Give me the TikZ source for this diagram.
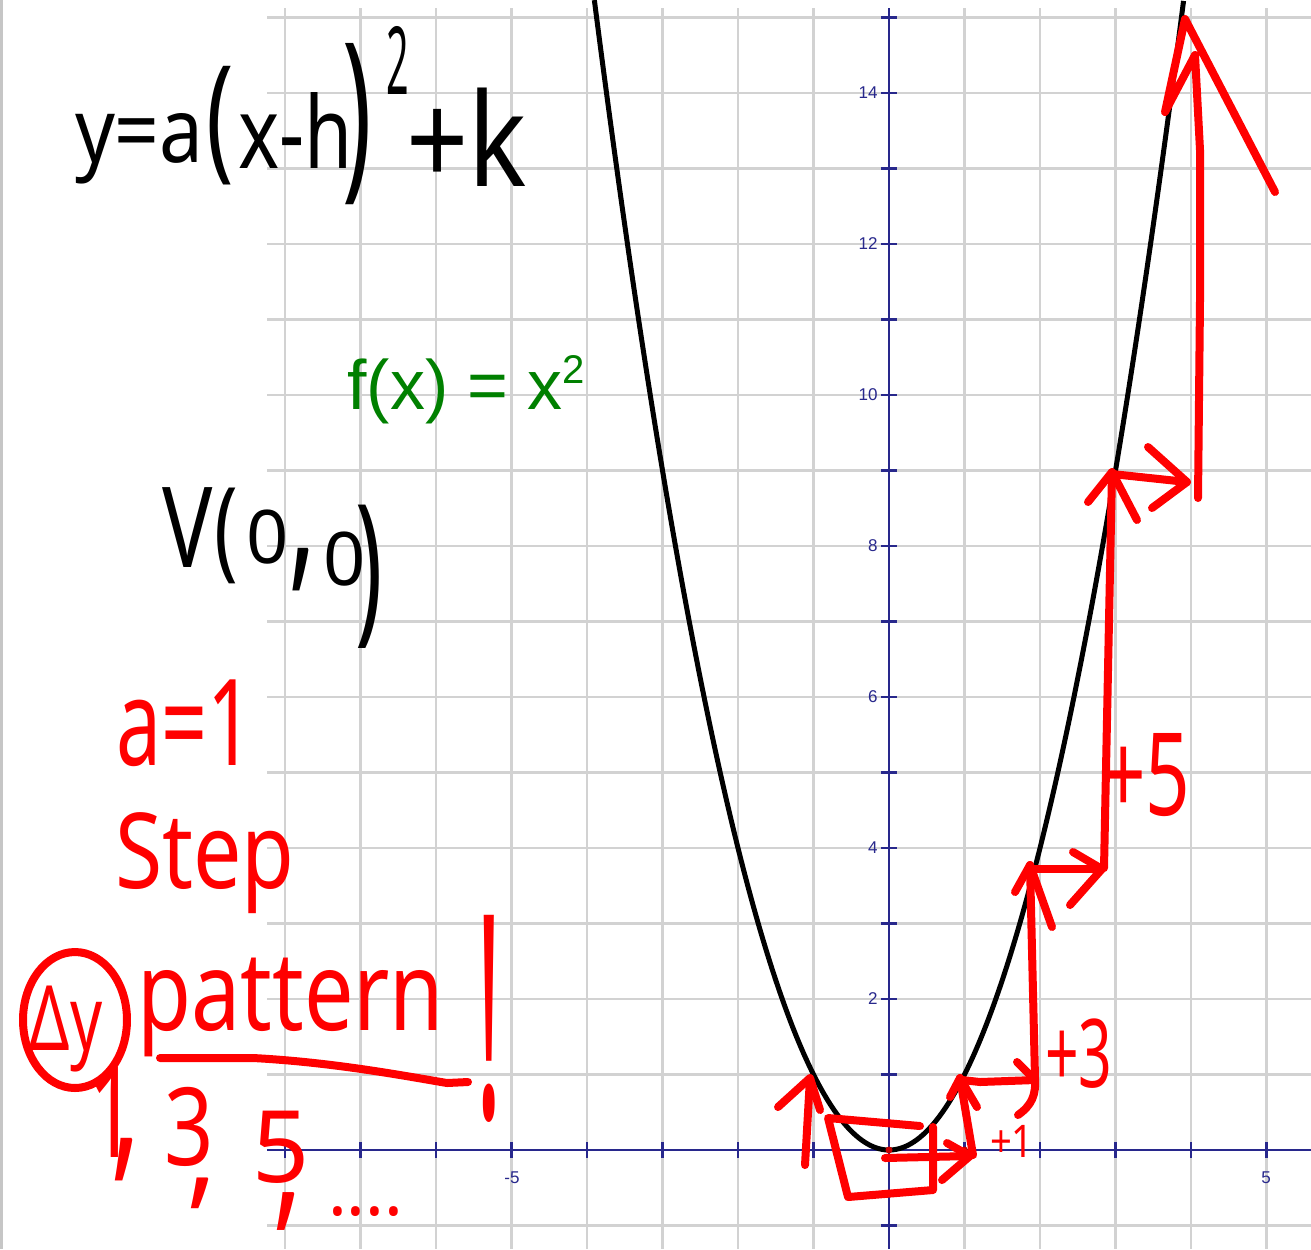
\documentclass[tikz,border=0pt]{standalone}
\usepackage{fontspec}
\usepackage{graphicx}
\newfontfamily\handfont{Noto Sans}
\newfontfamily\ggbfont{Liberation Sans}
\definecolor{gridgray}{RGB}{210,210,210}
\definecolor{axisblue}{RGB}{40,40,140}
\definecolor{ggbgreen}{RGB}{0,128,0}
\definecolor{marker}{RGB}{255,0,0}
\definecolor{dotred}{RGB}{200,0,0}
\newcommand\hwt[3]{\fontsize{#1}{#1}\selectfont\scalebox{#2}[1]{#3}}
\newcommand\hws[4]{\fontsize{#1}{#1}\selectfont\scalebox{#2}[#3]{#4}}
\begin{document}
\begin{tikzpicture}[x=0.02cm,y=-0.02cm,
  gridline/.style={draw=gridgray,line width=0.05cm},
  axisline/.style={draw=axisblue,line width=0.045cm},
  ylab/.style={font=\ggbfont\fontsize{9.7pt}{10pt}\selectfont,text=axisblue,anchor=east,inner sep=0pt},
  xlab/.style={font=\ggbfont\fontsize{9.7pt}{10pt}\selectfont,text=axisblue,anchor=base,inner sep=0pt},
  parab/.style={draw=black,line width=0.1cm},
  mk/.style={draw=marker,line width=0.16cm,line cap=round,line join=round},
  blk/.style={font=\handfont,text=black,anchor=base west,inner sep=0pt,outer sep=0pt},
  redt/.style={font=\handfont,text=marker,anchor=base west,inner sep=0pt,outer sep=0pt}]
\useasboundingbox (0,0) rectangle (1311,1249);
\fill[white] (0,0) rectangle (1311,1249);
% window border
\draw[draw=gray!45,line width=0.06cm] (1.5,0) -- (1.5,1249);
% grid
\foreach \k in {-8,...,5} \draw[gridline] ({889+75.5*\k},8) -- ({889+75.5*\k},1249);
\foreach \k in {-1,...,15} \draw[gridline] (267,{1150-75.5*\k}) -- (1311,{1150-75.5*\k});
% axes
\draw[axisline] (267,1150) -- (1311,1150);
\draw[axisline] (889,8) -- (889,1249);
\foreach \k in {-8,...,5} \draw[axisline] ({889+75.5*\k},1142) -- ({889+75.5*\k},1158);
\foreach \k in {-1,...,15} \draw[axisline] (881,{1150-75.5*\k}) -- (897,{1150-75.5*\k});
\foreach \k in {2,4,...,14} \node[ylab] (yl\k) at (878,{1150-75.5*\k}) {\k};
\node[xlab] (xlm5) at (512,1183) {-5};
\node[xlab] (xlp5) at (1266,1183) {5};
% parabola
\draw[parab] plot[domain=-3.9026:3.9026,samples=200,smooth] ({889+75.5*\x},{1150-75.5*\x*\x});
% green label
\node[font=\ggbfont\fontsize{39.8pt}{40pt}\selectfont,text=ggbgreen,anchor=base west,inner sep=0pt] (fx) at (347,409)
  {f(x) = x\raisebox{14.8pt}{\fontsize{22.8pt}{23pt}\selectfont 2}};
% black handwriting: y=a(x-h)^2+k
\node[blk] (f1) at (75,162) {\hwt{51.2pt}{0.87}{y=a}};
\node[blk] (f2) at (206,163) {\hws{52pt}{1}{1.49}{(}};
\node[blk] (f3) at (238,168) {\hwt{56.9pt}{0.78}{x-h}};
\node[blk] (f4) at (342,175) {\hws{56pt}{1}{1.88}{)}};
\node[blk] (f5) at (386,94) {\hwt{53.5pt}{0.42}{2}};
\node[blk] (f6) at (406,186) {\hws{62pt}{1}{1.19}{+k}};
% V(0,0)
\node[blk] (v1) at (162,567) {\hwt{63.7pt}{0.75}{V}};
\node[blk] (v2) at (214,566) {\hws{45pt}{1}{1.39}{(}};
\node[blk] (v3) at (246,563) {\hwt{42.1pt}{1}{0}};
\node[blk] (v4) at (288,568) {\hws{55pt}{1.1}{1.8}{,}};
\node[blk] (v5) at (323,585) {\hwt{42.1pt}{1}{0}};
\node[blk] (v6) at (355,622) {\hws{52pt}{1}{1.8}{)}};
% red text
\node[redt] (a1) at (116,765) {\hwt{68.3pt}{0.67}{a=1}};
\node[redt] (st) at (115,888) {\hwt{59.7pt}{0.82}{Step}};
\node[redt] (dy) at (30,1050) {\hwt{51.2pt}{0.7}{Δy}};
\draw[mk] (75,1020) ellipse [x radius=1.04cm,y radius=1.36cm];
\node[redt] (pat) at (137,1030) {\hwt{62.6pt}{0.8}{pattern}};
\node[redt,text depth=0pt] (exc) at (476,1118) {\hws{90pt}{0.6}{1.8}{!}};
\draw[mk] (160,1058) -- (253,1058) .. controls (330,1062) and (400,1075) .. (447,1083) -- (468,1082);
\node[redt] (n1) at (88,1157) {\hws{60pt}{0.8}{1.2}{1}};
\node[redt] (c1) at (110,1158) {\hws{55pt}{1.2}{1.8}{,}};
\node[redt] (n3) at (164,1165) {\hwt{61.5pt}{0.8}{3}};
\node[redt] (c2) at (186,1192) {\hws{55pt}{1.2}{1.3}{,}};
\node[redt] (n5) at (252,1182) {\hwt{56.9pt}{1}{5}};
\node[redt] (c3) at (272,1210) {\hws{55pt}{1.2}{1.6}{,}};
\node[redt] (dots) at (328,1215) {\hwt{42pt}{0.95}{....}};
\node[redt,font=\handfont\bfseries] (p1) at (990,1157) {\hwt{25.6pt}{0.85}{+1}};
\node[redt] (p3) at (1045,1087) {\hwt{54pt}{0.62}{+3}};
\node[redt] (p5) at (1101,815) {\hwt{65.4pt}{0.68}{+5}};
% points
\fill[dotred] (889,1150) circle[radius=0.07cm];
\fill[dotred] (964.5,1150) circle[radius=0.07cm];
% arrow coordinates
\coordinate (lA) at (805,1165); \coordinate (lB) at (810,1078);
\coordinate (o) at (885,1158); \coordinate (r1) at (970,1156);
\coordinate (u1a) at (973,1155); \coordinate (u1b) at (960,1078);
\coordinate (r2a) at (962,1080); \coordinate (r2b) at (1035,1080);
\coordinate (u2a) at (1018,1115); \coordinate (u2b) at (1030,865);
\coordinate (r3a) at (1030,869); \coordinate (r3b) at (1102,869);
\coordinate (u3a) at (1104,868); \coordinate (u3b) at (1112,472);
\coordinate (r4a) at (1112,474); \coordinate (r4b) at (1187,482);
\coordinate (u4a) at (1198,498); \coordinate (u4b) at (1195,55);
% box around vertex
\draw[mk] (920,1126) -- (828,1118) -- (848,1197) -- (933,1190) -- (933,1127);
% arrows
\draw[mk] (lA) -- (lB);
\draw[mk] (778,1107) -- (lB) -- (820,1110);
\draw[mk] (o) -- (r1);
\draw[mk] (947,1143) -- (r1) -- (942,1180);
\draw[mk] (u1a) -- (u1b);
\draw[mk] (950,1097) -- (u1b) -- (977,1107);
\draw[mk] (r2a) -- (980,1082) -- (r2b);
\draw[mk] (1017,1062) -- (r2b);
\draw[mk] (u2a) .. controls (1032,1105) and (1036,1095) .. (1035,1078) -- (u2b);
\draw[mk] (1015,892) -- (u2b) -- (1052,927);
\draw[mk] (r3a) -- (r3b);
\draw[mk] (1073,852) -- (r3b) -- (1070,905);
\draw[mk] (u3a) -- (u3b);
\draw[mk] (1088,502) -- (u3b) -- (1137,520);
\draw[mk] (r4a) -- (r4b);
\draw[mk] (1148,447) -- (r4b) -- (1152,508);
\draw[mk] (u4a) -- (1200,300) -- (1200,150) -- (u4b) -- (1165,112) -- (1185,19) -- (1275,192);
\end{tikzpicture}
\end{document}
